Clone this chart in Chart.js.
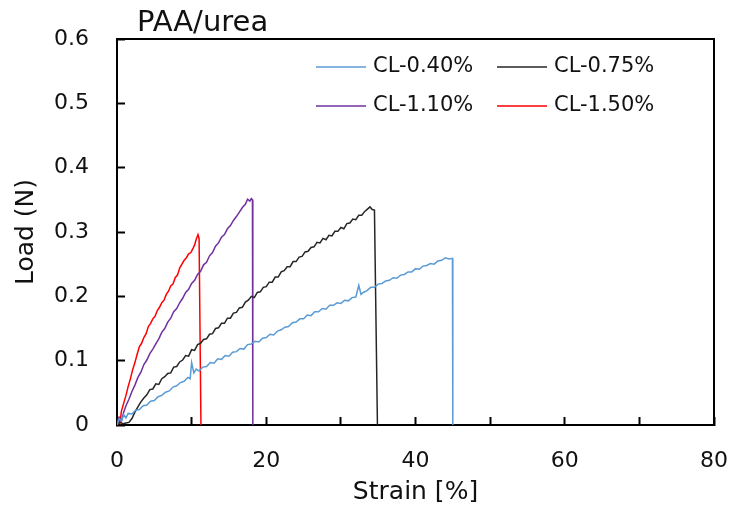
<!DOCTYPE html>
<html>
<head>
<meta charset="utf-8">
<script src="https://cdn.jsdelivr.net/npm/chart.js@4/dist/chart.umd.min.js"></script>
<style>
html,body{margin:0;padding:0;background:#fff;}
canvas{display:block;}
</style>
</head>
<body>
<canvas id="c" width="731" height="508"></canvas>
<script>
const chartTitle = 'PAA/urea';
const seriesNames = ['CL-0.40%', 'CL-0.75%', 'CL-1.10%', 'CL-1.50%'];
const xTickLabels = ['0', '', '20', '', '40', '', '60', '', '80'];
const yTickLabels = ['0', '0.1', '0.2', '0.3', '0.4', '0.5', '0.6'];

const strain040 = [0.0,0.3,0.6,0.9,1.2,1.5,2.0,2.5,3.0,3.5,4.0,4.5,5.0,5.5,6.0,6.5,7.0,7.5,8.0,8.5,9.0,9.5,9.8,10.0,10.3,10.6,11.0,11.5,12.0,12.5,13.0,13.5,14.0,14.5,15.0,15.5,16.0,16.5,17.0,17.5,18.0,18.5,19.0,19.5,20.0,20.5,21.0,21.5,22.0,22.5,23.0,23.5,24.0,24.5,25.0,25.5,26.0,26.5,27.0,27.5,28.0,28.5,29.0,29.5,30.0,30.5,31.0,31.5,32.0,32.4,32.7,33.0,33.5,34.0,34.5,35.0,35.5,36.0,36.5,37.0,37.5,38.0,38.5,39.0,39.5,40.0,40.5,41.0,41.5,42.0,42.5,43.0,43.5,44.0,44.5,44.95,45.0];
const load040 = [0.000,0.010,0.006,0.016,0.011,0.018,0.017,0.023,0.024,0.030,0.031,0.037,0.038,0.044,0.046,0.051,0.053,0.059,0.061,0.066,0.068,0.074,0.072,0.097,0.081,0.087,0.084,0.090,0.091,0.097,0.096,0.103,0.102,0.108,0.107,0.113,0.114,0.119,0.118,0.125,0.126,0.130,0.129,0.135,0.136,0.141,0.140,0.146,0.148,0.152,0.153,0.159,0.160,0.165,0.165,0.171,0.170,0.176,0.176,0.181,0.180,0.186,0.186,0.190,0.189,0.194,0.193,0.198,0.199,0.217,0.203,0.206,0.209,0.214,0.214,0.219,0.220,0.224,0.225,0.229,0.228,0.233,0.234,0.238,0.238,0.243,0.242,0.247,0.248,0.251,0.250,0.255,0.256,0.260,0.258,0.259,0.000];

const strain075 = [0.0,0.4,0.8,1.2,1.6,2.0,2.4,2.8,3.2,3.6,4.0,4.4,4.8,5.2,5.6,6.0,6.4,6.8,7.2,7.6,8.0,8.4,8.8,9.2,9.6,10.0,10.4,10.8,11.2,11.6,12.0,12.4,12.8,13.2,13.6,14.0,14.4,14.8,15.2,15.6,16.0,16.4,16.8,17.2,17.6,18.0,18.4,18.8,19.2,19.6,20.0,20.4,20.8,21.2,21.6,22.0,22.4,22.8,23.2,23.6,24.0,24.4,24.8,25.2,25.6,26.0,26.4,26.8,27.2,27.6,28.0,28.4,28.8,29.2,29.6,30.0,30.4,30.8,31.2,31.6,32.0,32.4,32.8,33.2,33.6,33.9,34.2,34.5,34.9];
const load075 = [0.000,0.004,0.002,0.003,0.004,0.010,0.020,0.028,0.036,0.042,0.047,0.055,0.056,0.064,0.063,0.072,0.075,0.080,0.081,0.090,0.091,0.098,0.101,0.108,0.107,0.117,0.116,0.125,0.127,0.133,0.134,0.141,0.142,0.150,0.151,0.158,0.158,0.166,0.166,0.174,0.175,0.182,0.183,0.191,0.194,0.200,0.198,0.206,0.207,0.214,0.215,0.222,0.222,0.230,0.230,0.238,0.240,0.246,0.246,0.254,0.254,0.261,0.262,0.269,0.270,0.276,0.277,0.284,0.283,0.290,0.288,0.295,0.294,0.301,0.301,0.307,0.305,0.313,0.314,0.320,0.319,0.326,0.326,0.332,0.336,0.339,0.335,0.334,0.000];

const strain110 = [0.0,0.3,0.6,0.9,1.2,1.6,2.0,2.4,2.8,3.2,3.6,4.0,4.4,4.8,5.2,5.6,6.0,6.4,6.8,7.2,7.6,8.0,8.4,8.8,9.2,9.6,10.0,10.4,10.8,11.2,11.6,12.0,12.4,12.8,13.2,13.6,14.0,14.4,14.8,15.2,15.6,16.0,16.4,16.8,17.2,17.5,17.8,18.0,18.15,18.2];
const load110 = [0.000,0.012,0.006,0.020,0.030,0.040,0.052,0.062,0.074,0.082,0.094,0.101,0.111,0.118,0.126,0.134,0.144,0.150,0.160,0.166,0.176,0.181,0.190,0.197,0.206,0.211,0.220,0.225,0.234,0.239,0.249,0.253,0.263,0.268,0.278,0.283,0.292,0.296,0.305,0.310,0.318,0.324,0.331,0.338,0.343,0.351,0.348,0.352,0.350,0.000];

const strain150 = [0.0,0.2,0.4,0.6,0.9,1.2,1.5,1.8,2.1,2.4,2.7,3.0,3.3,3.6,3.9,4.2,4.5,4.8,5.1,5.4,5.7,6.0,6.3,6.6,6.9,7.2,7.5,7.8,8.1,8.4,8.7,9.0,9.3,9.6,9.9,10.2,10.4,10.6,10.85,11.0,11.25];
const load150 = [0.000,0.010,0.004,0.022,0.034,0.046,0.060,0.072,0.086,0.097,0.110,0.122,0.127,0.136,0.142,0.153,0.158,0.165,0.169,0.178,0.183,0.190,0.194,0.203,0.208,0.216,0.219,0.229,0.233,0.244,0.250,0.256,0.260,0.266,0.268,0.275,0.280,0.288,0.296,0.290,0.000];

const seriesColors = ['#5B9BD5', '#262626', '#7030A0', '#FF0000'];

function pairs(xs, ys) { return xs.map((x, i) => ({x: x, y: ys[i]})); }

const FONT = "'DejaVu Sans', sans-serif";

function noEdgePadding(s) {
  s.paddingLeft = 0; s.paddingRight = 0; s.paddingTop = 0; s.paddingBottom = 0;
}

const framePlugin = {
  id: 'frameAndText',
  afterDraw(chart) {
    const ctx = chart.ctx;
    const a = chart.chartArea;
    ctx.save();
    ctx.strokeStyle = '#000';
    ctx.lineWidth = 2;
    ctx.beginPath();
    ctx.moveTo(a.left - 1, a.top);
    ctx.lineTo(a.right, a.top);
    ctx.lineTo(a.right, a.bottom + 1);
    ctx.stroke();
    ctx.fillStyle = '#111';
    ctx.font = "29px " + FONT;
    ctx.textBaseline = 'alphabetic';
    ctx.textAlign = 'left';
    ctx.fillText(chartTitle, 137, 31);
    const ds = chart.data.datasets;
    const cols = [316, 497];
    const rows = [67, 106];
    ctx.font = "21px " + FONT;
    ctx.textBaseline = 'middle';
    ds.forEach((d, i) => {
      const cx = cols[i % 2];
      const cy = rows[Math.floor(i / 2)];
      ctx.strokeStyle = d.borderColor;
      ctx.lineWidth = 1.5;
      ctx.beginPath();
      ctx.moveTo(cx, cy);
      ctx.lineTo(cx + 50, cy);
      ctx.stroke();
      ctx.fillStyle = '#111';
      ctx.fillText(d.label, cx + 57, cy);
    });
    ctx.restore();
  }
};

new Chart(document.getElementById('c'), {
  type: 'line',
  data: {
    datasets: [
      {label: seriesNames[0], data: pairs(strain040, load040), borderColor: seriesColors[0]},
      {label: seriesNames[1], data: pairs(strain075, load075), borderColor: seriesColors[1]},
      {label: seriesNames[2], data: pairs(strain110, load110), borderColor: seriesColors[2]},
      {label: seriesNames[3], data: pairs(strain150, load150), borderColor: seriesColors[3]}
    ]
  },
  options: {
    responsive: false,
    animation: false,
    devicePixelRatio: 1,
    layout: {padding: {left: 0, top: 39, right: 17, bottom: 0}},
    elements: {
      line: {borderWidth: 1.5, tension: 0, fill: false},
      point: {radius: 0, hoverRadius: 0}
    },
    plugins: {
      legend: {display: false},
      title: {display: false},
      tooltip: {enabled: false}
    },
    scales: {
      x: {
        type: 'linear',
        min: 0, max: 80,
        afterFit(s) { s.height = 83; noEdgePadding(s); },
        border: {display: true, color: '#000', width: 2},
        grid: {drawOnChartArea: false, drawTicks: true, tickLength: -8, tickWidth: 2, tickColor: '#000'},
        ticks: {
          stepSize: 10, autoSkip: false, maxRotation: 0, padding: 31,
          color: '#111', font: {family: FONT, size: 22},
          callback: (v, i) => xTickLabels[i]
        },
        title: {display: true, text: 'Strain [%]', color: '#111', font: {family: FONT, size: 25}, padding: {top: 0, bottom: 1}}
      },
      y: {
        type: 'linear',
        min: 0, max: 0.6,
        afterFit(s) { s.width = 117; noEdgePadding(s); },
        border: {display: true, color: '#000', width: 2},
        grid: {drawOnChartArea: false, drawTicks: true, tickLength: -8, tickWidth: 2, tickColor: '#000'},
        ticks: {
          stepSize: 0.1, autoSkip: false, padding: 36,
          color: '#111', font: {family: FONT, size: 22},
          callback: (v, i) => yTickLabels[i]
        },
        title: {display: true, text: 'Load (N)', color: '#111', font: {family: FONT, size: 25}, padding: {top: 11, bottom: 0}}
      }
    }
  },
  plugins: [framePlugin]
});
</script>
</body>
</html>
